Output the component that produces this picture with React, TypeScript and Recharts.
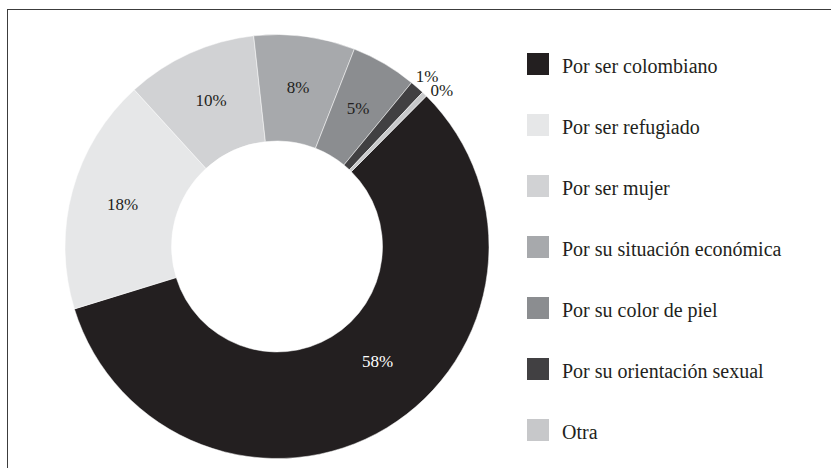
import { PieChart, Pie, Cell } from "recharts";

const categories = [
  "Por ser colombiano",
  "Por ser refugiado",
  "Por ser mujer",
  "Por su situación económica",
  "Por su color de piel",
  "Por su orientación sexual",
  "Otra",
];

const shares = [57.8, 18.0, 10.0, 7.7, 5.0, 1.1, 0.4];

const colors = ["#231f20", "#e6e7e8", "#d1d2d4", "#a7a9ac", "#8b8d90", "#414042", "#c7c8ca"];

const data = categories.map((name, i) => ({ name, value: shares[i] }));

const FONT = "'Liberation Serif', 'Times New Roman', serif";
const RADIAN = Math.PI / 180;

function renderLabel(props: any) {
  const { cx, cy, midAngle, index, percent } = props;
  const small = percent < 0.02;
  let angle = midAngle;
  let r = small ? 227 : 160;
  if (percent > 0.5) {
    angle = midAngle + 10;
    r = 153;
  }
  if (small && index === categories.length - 1) angle = midAngle - 2.5;
  const x = cx + r * Math.cos(-angle * RADIAN);
  const y = cy + r * Math.sin(-angle * RADIAN);
  return (
    <text
      x={x}
      y={y}
      textAnchor="middle"
      dominantBaseline="central"
      fill={index === 0 ? "#ffffff" : "#231f20"}
      style={{ fontFamily: FONT, fontSize: 17 }}
    >
      {`${Math.round(shares[index])}%`}
    </text>
  );
}

function LegendList() {
  return (
    <div
      style={{
        position: "absolute",
        left: 527,
        top: 53,
        fontFamily: FONT,
        fontSize: 20,
        color: "#231f20",
      }}
    >
      {categories.map((name, i) => (
        <div
          key={name}
          style={{ display: "flex", alignItems: "center", height: 22, marginBottom: 39 }}
        >
          <span
            style={{
              display: "inline-block",
              width: 22,
              height: 22,
              background: colors[i],
              marginRight: 13,
            }}
          />
          <span style={{ position: "relative", top: 2, whiteSpace: "nowrap" }}>{name}</span>
        </div>
      ))}
    </div>
  );
}

export default function App() {
  return (
    <div style={{ position: "absolute", left: 0, top: 0, width: 831, height: 468, background: "#fff", overflow: "hidden" }}>
      <div
        style={{
          position: "absolute",
          left: 7,
          top: 8.5,
          width: 840,
          height: 480,
          borderTop: "1.5px solid #3c3c3c",
          borderLeft: "1.5px solid #3c3c3c",
        }}
      />
      <PieChart width={831} height={468} style={{ position: "absolute", left: 0, top: 0 }}>
        <Pie
          data={data}
          dataKey="value"
          nameKey="name"
          cx={272}
          cy={241.5}
          innerRadius={105.5}
          outerRadius={212}
          startAngle={45.2}
          endAngle={-314.8}
          stroke="#ffffff"
          strokeWidth={0.5}
          label={renderLabel}
          labelLine={false}
          isAnimationActive={false}
        >
          {data.map((d, i) => (
            <Cell key={d.name} fill={colors[i]} />
          ))}
        </Pie>
      </PieChart>
      <LegendList />
    </div>
  );
}
